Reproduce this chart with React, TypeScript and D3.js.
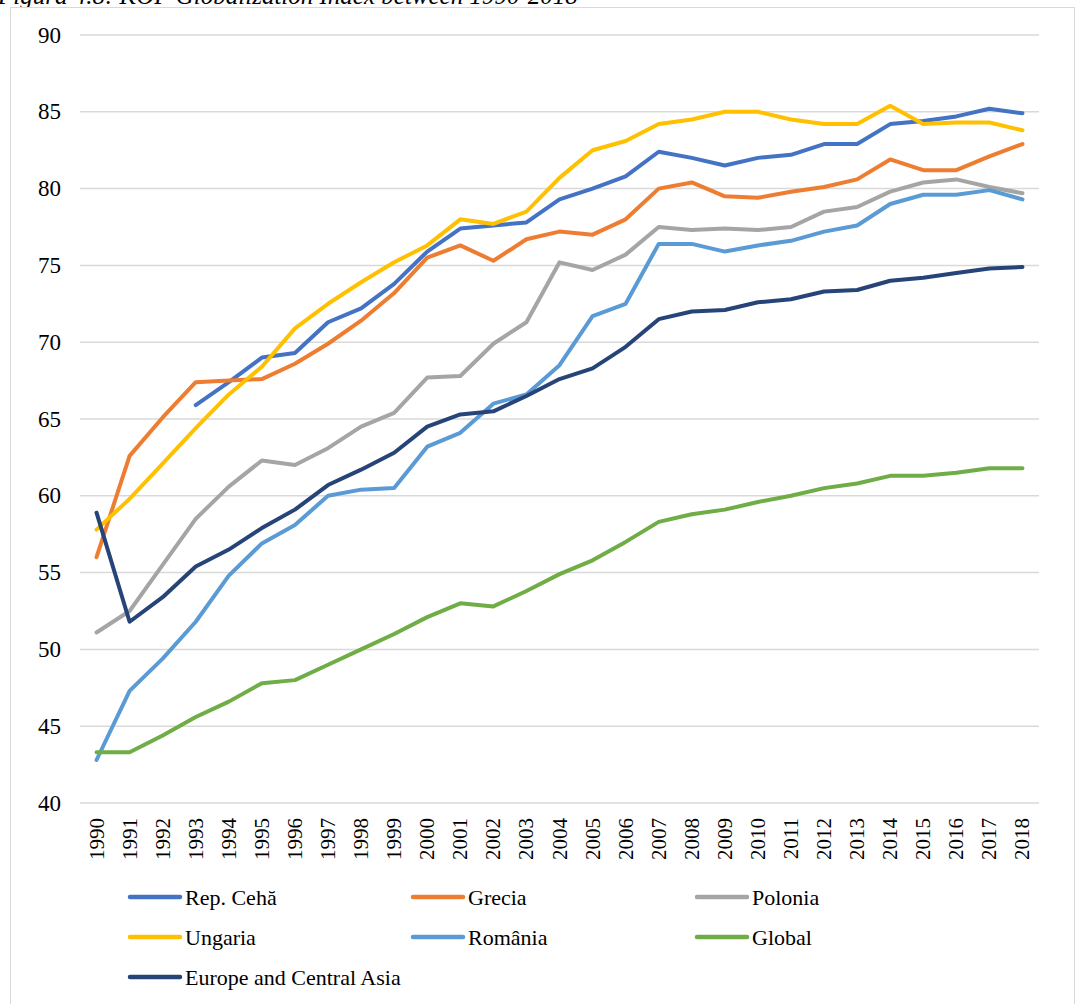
import * as d3 from "d3";

const WIDTH = 1077;
const HEIGHT = 1004;
const FONT = "'Liberation Serif', 'Times New Roman', serif";

const years = d3.range(1990, 2019).map(String);

const repCeha = [null, null, null, 65.9, 67.4, 69.0, 69.3, 71.3, 72.2, 73.8, 75.9, 77.4, 77.6, 77.8, 79.3, 80.0, 80.8, 82.4, 82.0, 81.5, 82.0, 82.2, 82.9, 82.9, 84.2, 84.4, 84.7, 85.2, 84.9];
const grecia = [56.0, 62.6, 65.1, 67.4, 67.5, 67.6, 68.6, 69.9, 71.4, 73.2, 75.5, 76.3, 75.3, 76.7, 77.2, 77.0, 78.0, 80.0, 80.4, 79.5, 79.4, 79.8, 80.1, 80.6, 81.9, 81.2, 81.2, 82.1, 82.9];
const polonia = [51.1, 52.5, 55.5, 58.5, 60.6, 62.3, 62.0, 63.1, 64.5, 65.4, 67.7, 67.8, 69.9, 71.3, 75.2, 74.7, 75.7, 77.5, 77.3, 77.4, 77.3, 77.5, 78.5, 78.8, 79.8, 80.4, 80.6, 80.1, 79.7];
const ungaria = [57.8, 59.8, 62.1, 64.4, 66.6, 68.4, 70.9, 72.5, 73.9, 75.2, 76.3, 78.0, 77.7, 78.5, 80.7, 82.5, 83.1, 84.2, 84.5, 85.0, 85.0, 84.5, 84.2, 84.2, 85.4, 84.2, 84.3, 84.3, 83.8];
const romania = [42.8, 47.3, 49.4, 51.8, 54.8, 56.9, 58.1, 60.0, 60.4, 60.5, 63.2, 64.1, 66.0, 66.6, 68.5, 71.7, 72.5, 76.4, 76.4, 75.9, 76.3, 76.6, 77.2, 77.6, 79.0, 79.6, 79.6, 79.9, 79.3];
const global = [43.3, 43.3, 44.4, 45.6, 46.6, 47.8, 48.0, 49.0, 50.0, 51.0, 52.1, 53.0, 52.8, 53.8, 54.9, 55.8, 57.0, 58.3, 58.8, 59.1, 59.6, 60.0, 60.5, 60.8, 61.3, 61.3, 61.5, 61.8, 61.8];
const europeCA = [58.9, 51.8, 53.4, 55.4, 56.5, 57.9, 59.1, 60.7, 61.7, 62.8, 64.5, 65.3, 65.5, 66.5, 67.6, 68.3, 69.7, 71.5, 72.0, 72.1, 72.6, 72.8, 73.3, 73.4, 74.0, 74.2, 74.5, 74.8, 74.9];

const yTicks = [40, 45, 50, 55, 60, 65, 70, 75, 80, 85, 90];

const series = [
  { name: "Rep. Cehă", values: repCeha, color: "#4472C4" },
  { name: "Grecia", values: grecia, color: "#ED7D31" },
  { name: "Polonia", values: polonia, color: "#A5A5A5" },
  { name: "Ungaria", values: ungaria, color: "#FFC000" },
  { name: "România", values: romania, color: "#5B9BD5" },
  { name: "Global", values: global, color: "#70AD47" },
  { name: "Europe and Central Asia", values: europeCA, color: "#264478" },
];

const PLOT = { left: 80, right: 1039, top: 35, bottom: 803 };

export default function App() {
  const xScale = d3
    .scaleBand()
    .domain(years)
    .range([PLOT.left, PLOT.right]);
  const yScale = d3
    .scaleLinear()
    .domain([40, 90])
    .range([PLOT.bottom, PLOT.top]);

  const xPos = (i: number) => (xScale(years[i]) ?? 0) + xScale.bandwidth() / 2;

  const lineGen = d3
    .line<number | null>()
    .defined((d) => d !== null)
    .x((_, i) => xPos(i))
    .y((d) => yScale(d as number));

  // legend: 3 columns
  const legendX = [130, 413, 697];
  const legendY = [897, 937, 977];

  return (
    <svg
      width={WIDTH}
      height={HEIGHT}
      style={{ position: "absolute", left: 0, top: 0, background: "#fff" }}
      fontFamily={FONT}
    >
      {/* caption above the chart, cut off by the top edge as in the source */}
      <text x={-2} y={4} fontSize={25} fontStyle="italic" fill="#000">
        Figura 4.8: KOF Globalization Index between 1990-2018
      </text>
      <rect x={10.5} y={7.5} width={1064} height={1010} fill="#fff" stroke="#d9d9d9" strokeWidth={1} />

      {yTicks.map((t) => (
        <g key={t}>
          <line
            x1={PLOT.left}
            x2={PLOT.right}
            y1={yScale(t)}
            y2={yScale(t)}
            stroke="#d9d9d9"
            strokeWidth={1.5}
          />
          <text
            x={61}
            y={yScale(t)}
            textAnchor="end"
            dominantBaseline="central"
            fontSize={23}
            fill="#000"
          >
            {t}
          </text>
        </g>
      ))}

      {years.map((yr, i) => (
        <text
          key={yr}
          transform={`translate(${xPos(i)},${818}) rotate(-90)`}
          textAnchor="end"
          dominantBaseline="central"
          fontSize={21}
          fill="#000"
        >
          {yr}
        </text>
      ))}

      {series.map((s) => (
        <path
          key={s.name}
          d={lineGen(s.values) ?? ""}
          fill="none"
          stroke={s.color}
          strokeWidth={4}
          strokeLinecap="round"
          strokeLinejoin="round"
        />
      ))}

      {series.map((s, i) => {
        const lx = legendX[i % 3];
        const ly = legendY[Math.floor(i / 3)];
        return (
          <g key={s.name}>
            <line
              x1={lx}
              x2={lx + 50}
              y1={ly}
              y2={ly}
              stroke={s.color}
              strokeWidth={4.5}
              strokeLinecap="round"
            />
            <text x={lx + 55} y={ly} dominantBaseline="central" fontSize={22} fill="#000">
              {s.name}
            </text>
          </g>
        );
      })}
    </svg>
  );
}
